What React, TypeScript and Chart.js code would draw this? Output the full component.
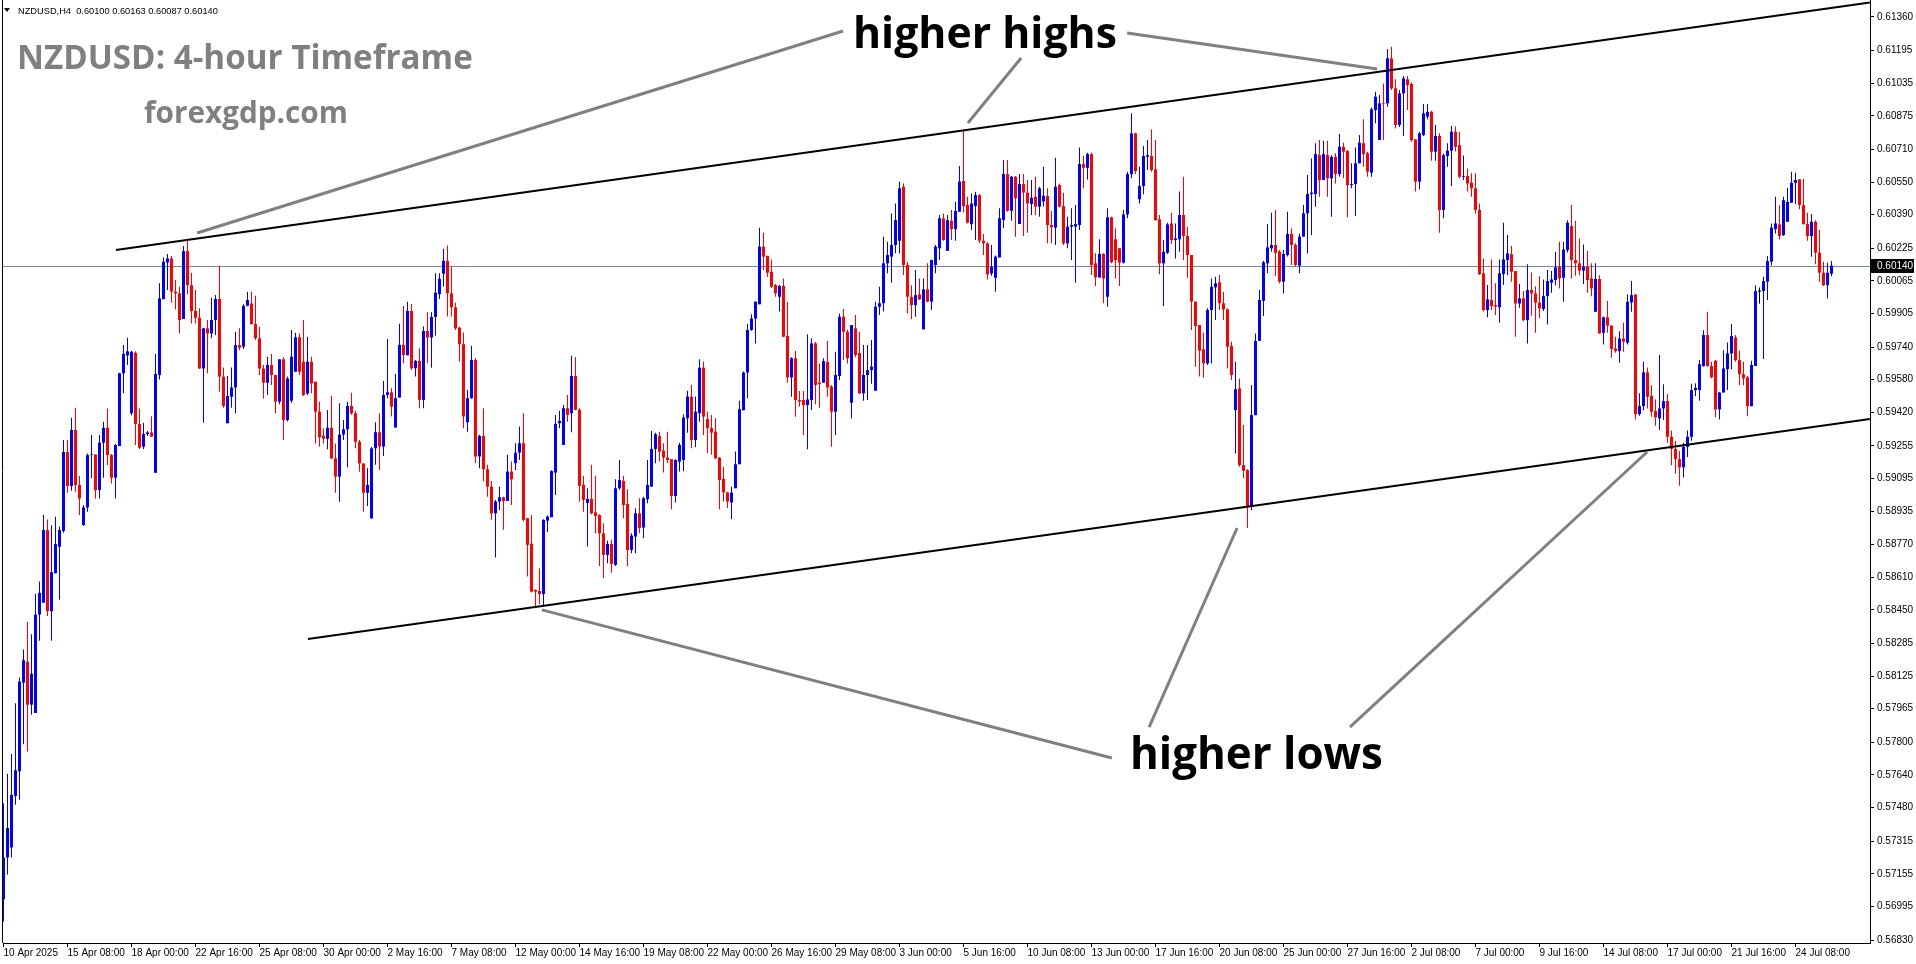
import React, { useEffect, useRef } from "react";
import { Chart, registerables } from "chart.js";
Chart.register(...registerables);

// NZDUSD H4 candles, prices in 1e-5 units (points)
const opens = [
57030,57235,57284,57537,57658,58093,58196,57985,57944,58427,
58485,58842,58444,58630,58760,58838,59225,59058,59333,59063,
58867,58953,59210,59213,59038,59271,59344,59210,59099,59254,
59611,59699,59415,59712,59362,59251,59313,59321,59123,59603,
59975,60155,60175,60012,60004,59878,60211,60044,59917,59884,
59635,59832,59807,59873,59976,59595,59366,59496,59542,59750,
59742,59943,59954,59853,59783,59635,59565,59652,59603,59472,
59680,59382,59477,59619,59788,59668,59512,59668,59570,59423,
59305,59290,59344,59194,59104,59311,59336,59451,59415,59275,
59169,59025,58899,59243,59322,59252,59505,59518,59345,59492,
59751,59700,59917,59636,59672,59481,59819,59787,59888,60000,
60100,60163,60004,59935,59835,59754,59371,59489,59677,59203,
59304,59140,59055,58924,58982,59003,58985,59129,59170,59222,
59268,58900,58775,58548,58543,58528,58888,58905,59124,59366,
59260,59440,59415,59598,59432,59064,58975,58995,58929,58916,
58826,58720,58774,58671,59047,59083,58970,58744,58810,58924,
58854,58993,59055,59240,59304,59232,59198,59190,59009,59178,
59186,59391,59497,59284,59415,59639,59386,59342,59325,59197,
59093,59026,58977,59047,59165,59430,59615,59824,59880,59950,
60233,60188,60110,60044,59987,60040,59795,59591,59685,59480,
59480,59455,59480,59758,59566,59565,59667,59546,59423,59598,
59889,59815,59467,59832,59711,59513,59603,59627,59526,59938,
59955,60151,60184,60241,60262,60527,60143,59987,59946,59999,
59827,60023,59963,60143,60225,60372,60212,60360,60319,60404,
60555,60437,60343,60432,60486,60262,60249,60101,60080,60180,
60364,60589,60409,60576,60344,60540,60498,60442,60478,60429,
60455,60481,60339,60326,60535,60432,60249,60331,60331,60339,
60638,60620,60687,60151,60082,60197,59987,60377,60269,60225,
60154,60391,60589,60789,60465,60530,60674,60678,60612,60367,
60151,60203,60347,60265,60269,60388,60285,60192,59963,59848,
59729,59660,59922,60033,60058,59955,59925,59745,59431,59537,
59161,59136,58960,59406,59770,59967,60151,60225,60241,60208,
60061,60192,60295,60241,60140,60282,60396,60491,60491,60682,
60560,60682,60568,60674,60589,60723,60702,60535,60540,60642,
60740,60691,60596,60903,60756,60936,60936,61157,61010,60830,
60985,61054,61031,60760,60552,60781,60871,60895,60699,60776,
60413,60678,60704,60797,60731,60576,60580,60547,60519,60413,
60102,59922,59971,59946,59935,60098,60167,60196,60113,59954,
59979,59872,60020,60003,59958,59927,59990,60056,60069,60134,
60080,60216,60334,60167,60151,60115,60134,60077,59913,60074,
59810,59886,59845,59733,59720,59782,59761,59959,59998,59411,
59450,59616,59501,59426,59390,59439,59475,59300,59240,59190,
59150,59250,59300,59529,59529,59647,59799,59647,59673,59434,
59517,59632,59709,59787,59676,59607,59591,59450,59647,60015,
60015,60061,60159,60319,60342,60290,60355,60448,60546,60563,
60437,60344,60285,60355,60203,60105,60044,60100];

const highs = [
57501,57646,57743,57992,58118,58256,58391,58331,58529,58589,
58916,58894,58866,58907,58860,59284,59284,59393,59442,59107,
58965,59218,59308,59213,59308,59374,59438,59215,59264,59614,
59750,59786,59722,59720,59439,59369,59328,59401,59706,60053,
60180,60197,60187,60069,60036,60236,60269,60105,60020,59930,
59835,59873,59982,59995,60139,59640,59598,59640,59815,59832,
59950,60012,60012,59992,59840,59652,59693,59706,59603,59680,
59690,59595,59824,59810,59807,59873,59791,59693,59570,59472,
59340,59431,59500,59267,59464,59382,59472,59516,59428,59284,
59170,59145,59250,59371,59415,59574,59780,59538,59608,59854,
59942,59962,59952,59677,59734,59841,59911,59911,60102,60102,
60222,60238,60135,59958,59840,59811,59530,59747,59685,59310,
59440,59162,59083,58990,59055,59005,59211,59178,59268,59350,
59415,58900,58916,58550,58654,58895,58915,59135,59407,59428,
59456,59505,59697,59690,59440,59108,59047,59162,59108,58920,
58875,58789,58794,59091,59186,59108,59042,58826,58949,58998,
59006,59186,59328,59320,59325,59268,59325,59190,59190,59270,
59410,59526,59554,59497,59680,59669,59423,59407,59391,59200,
59153,59030,59055,59227,59476,59620,59854,59901,59963,60326,
60301,60188,60170,60050,60045,60077,59963,59690,59721,59524,
59524,59802,59783,59765,59660,59685,59770,59554,59717,59905,
59927,59825,59848,59897,59815,59750,59750,59775,59963,60036,
60282,60257,60396,60445,60552,60543,60159,60044,60118,60077,
60077,60151,60170,60241,60388,60396,60388,60413,60453,60629,
60808,60478,60494,60502,60490,60295,60255,60241,60190,60421,
60658,60658,60580,60580,60589,60589,60560,60560,60576,60527,
60625,60519,60408,60669,60543,60498,60380,60421,60437,60720,
60678,60694,60694,60200,60269,60200,60421,60380,60323,60225,
60413,60601,60887,60792,60625,60727,60756,60808,60756,60388,
60265,60350,60399,60347,60503,60576,60331,60192,59963,59848,
59810,59930,60077,60085,60094,60012,59930,59766,59668,59586,
59357,59140,59554,59807,60020,60164,60344,60399,60413,60216,
60216,60404,60323,60250,60298,60437,60584,60666,60740,60756,
60753,60753,60682,60691,60786,60743,60707,60642,60720,60781,
60858,60699,60916,60993,60977,61034,61203,61214,61054,61002,
61070,61070,61040,60760,60797,60933,60933,60900,60830,60789,
60690,60740,60825,60822,60797,60680,60617,60593,60593,60445,
60175,60045,60170,60053,60170,60350,60290,60236,60113,60049,
60015,60146,60106,60039,60088,60072,60118,60113,60208,60257,
60257,60363,60437,60360,60273,60244,60211,60151,60151,60093,
59890,59966,59848,59791,59818,59859,59998,60064,60000,59513,
59668,59640,59553,59483,59701,59558,59510,59330,59280,59230,
59270,59330,59560,59562,59676,59823,59913,59668,59676,59521,
59725,59763,59853,59799,59722,59668,59598,59673,60044,60033,
60085,60187,60347,60478,60437,60478,60522,60600,60596,60565,
60565,60399,60393,60363,60314,60159,60154,60163];

const lows = [
56921,57151,57235,57494,57518,57791,57755,57936,57944,58299,
58485,58420,58299,58630,58500,58829,59025,59035,59030,58916,
58862,58932,59096,58997,58997,59099,59161,59071,58997,59254,
59513,59652,59405,59259,59240,59240,59303,59300,59123,59581,
59975,60020,59958,59925,59807,59878,59999,59856,59856,59632,
59369,59611,59783,59799,59521,59442,59366,59442,59415,59725,
59730,59940,59850,59775,59603,59488,59505,59554,59415,59460,
59284,59375,59467,59619,59603,59500,59505,59513,59267,59251,
59267,59238,59190,59025,58981,59284,59150,59408,59243,59128,
58932,58960,58899,59162,59137,59206,59489,59399,59345,59492,
59661,59700,59628,59595,59440,59440,59661,59639,59795,59976,
60037,59890,59890,59824,59669,59342,59325,59486,59170,59145,
59080,59006,58892,58707,58940,58843,58985,58965,59137,59186,
58885,58614,58535,58458,58479,58466,58831,58905,59014,59342,
59260,59374,59322,59430,58982,58932,58761,58920,58826,58666,
58605,58679,58633,58665,59040,58900,58663,58728,58728,58826,
58802,58974,59055,59170,59178,59124,59170,58944,58977,59129,
59130,59320,59243,59250,59374,59309,59219,59211,59190,58944,
58982,58950,58895,59047,59165,59430,59489,59820,59758,59950,
60118,60085,60030,59987,59914,59788,59565,59496,59398,59447,
59308,59238,59431,59460,59442,59565,59496,59251,59308,59578,
59676,59660,59390,59690,59510,59477,59480,59560,59526,59897,
59914,60102,60056,60200,60200,60094,59905,59876,59889,59971,
59827,59960,59922,60102,60167,60262,60212,60265,60262,60404,
60400,60347,60314,60265,60249,60192,60072,60090,60012,60180,
60323,60404,60360,60282,60344,60285,60301,60388,60388,60380,
60430,60249,60249,60241,60425,60241,60225,60167,60056,60314,
60519,60563,60094,60040,60080,59955,59938,60151,60077,60040,
60150,60372,60568,60589,60445,60490,60609,60601,60360,60098,
59941,60197,60246,60175,60208,60167,60080,59824,59644,59595,
59591,59652,59660,59873,59922,59873,59636,59578,59218,59153,
59096,58852,58940,59406,59770,59893,60102,60208,60089,60053,
60004,60184,60143,60138,60102,60282,60200,60290,60429,60478,
60560,60478,60380,60543,60576,60568,60377,60519,60383,60642,
60625,60576,60576,60838,60756,60756,60920,61002,60813,60820,
60776,60903,60748,60503,60514,60776,60858,60655,60655,60301,
60372,60625,60530,60700,60568,60560,60503,60478,60396,60094,
59914,59886,59922,59897,59860,60045,60093,60061,59791,59933,
59867,59758,59894,59810,59881,59917,59851,60007,60044,60028,
59962,60204,60077,60090,60093,60049,60007,59990,59913,59805,
59753,59810,59688,59712,59663,59717,59753,59913,59385,59403,
59430,59439,59398,59354,59333,59382,59270,59160,59120,59060,
59100,59200,59280,59499,59477,59643,59643,59586,59395,59385,
59517,59529,59630,59668,59553,59553,59401,59450,59647,59954,
59681,59971,60142,60298,60268,60285,60355,60448,60442,60416,
60340,60262,60183,60147,60061,60040,59979,60087];

const closes = [
57235,57380,57542,57663,58098,58203,57985,58137,58427,58534,
58842,58444,58635,58773,58842,59225,59058,59333,59063,58997,
58953,59210,59213,59038,59271,59344,59210,59099,59259,59611,
59707,59719,59717,59362,59246,59313,59321,59300,59608,59979,
60159,60175,60012,60004,59873,60211,60044,59917,59884,59635,
59832,59807,59873,59976,59595,59451,59500,59542,59750,59737,
59943,59971,59853,59783,59635,59565,59652,59603,59472,59680,
59382,59586,59693,59788,59619,59505,59668,59562,59423,59297,
59290,59344,59194,59104,59311,59336,59451,59415,59275,59169,
59025,59063,59243,59322,59252,59505,59518,59448,59489,59751,
59701,59917,59636,59672,59481,59819,59787,59888,60007,60075,
60163,60004,59935,59832,59754,59399,59489,59677,59203,59304,
59140,59055,58924,58982,59003,58985,59129,59091,59222,59268,
58892,58769,58540,58540,58528,58892,58908,59132,59363,59378,
59440,59407,59598,59432,59059,58990,58995,58924,58911,58826,
58720,58774,58676,59047,59088,58965,58744,58815,58924,58851,
58998,59063,59240,59312,59227,59198,59186,59009,59186,59260,
59394,59497,59284,59423,59639,59399,59342,59320,59194,59088,
59026,58982,59026,59165,59435,59615,59824,59880,59963,60233,
60184,60105,60036,60004,60040,59791,59591,59685,59480,59472,
59455,59483,59758,59554,59559,59671,59542,59423,59603,59889,
59815,59685,59848,59701,59513,59603,59627,59644,59938,59955,
60151,60192,60241,60363,60519,60143,59987,59946,59995,59974,
60023,59963,60167,60233,60372,60265,60363,60319,60408,60552,
60432,60350,60445,60486,60262,60249,60097,60134,60184,60372,
60589,60409,60576,60470,60540,60498,60445,60473,60429,60519,
60483,60339,60328,60527,60429,60249,60331,60339,60344,60638,
60620,60687,60143,60082,60197,60077,60377,60156,60167,60154,
60391,60589,60789,60604,60530,60678,60682,60609,60363,60151,
60208,60342,60265,60273,60388,60285,60192,59963,59843,59722,
59660,59922,60036,60053,59955,59925,59742,59603,59533,59161,
59133,58960,59406,59770,59971,60156,60229,60241,60203,60061,
60197,60295,60241,60143,60282,60396,60491,60498,60687,60560,
60687,60568,60674,60589,60723,60699,60535,60540,60642,60743,
60687,60601,60907,60969,60936,60933,61157,61010,60830,60985,
61059,61026,60756,60552,60789,60887,60895,60699,60776,60413,
60682,60704,60797,60723,60576,60580,60543,60519,60413,60098,
59922,59974,59941,59938,60102,60170,60200,60110,59954,59979,
59872,60020,60003,59958,59930,59990,60064,60072,60131,60077,
60219,60350,60167,60151,60115,60134,60069,60028,60074,59807,
59886,59845,59730,59720,59782,59766,59962,59995,59411,59450,
59616,59496,59423,59395,59439,59475,59300,59240,59190,59150,
59250,59300,59529,59540,59656,59799,59647,59591,59434,59517,
59635,59709,59794,59676,59607,59586,59450,59652,60015,60015,
60064,60162,60326,60347,60285,60461,60453,60546,60560,60437,
60344,60285,60355,60203,60105,60044,60105,60140];

// time axis: one label every 16 bars
const xTickBars = [0,16,32,48,64,80,96,112,128,144,160,176,192,208,224,240,256,272,288,304,320,336,352,368,384,400,416,432,448];
const xTickLabels = ["10 Apr 2025","15 Apr 08:00","18 Apr 00:00","22 Apr 16:00","25 Apr 08:00","30 Apr 00:00","2 May 16:00","7 May 08:00","12 May 00:00","14 May 16:00","19 May 08:00","22 May 00:00","26 May 16:00","29 May 08:00","3 Jun 00:00","5 Jun 16:00","10 Jun 08:00","13 Jun 00:00","17 Jun 16:00","20 Jun 08:00","25 Jun 00:00","27 Jun 16:00","2 Jul 08:00","7 Jul 00:00","9 Jul 16:00","14 Jul 08:00","17 Jul 00:00","21 Jul 16:00","24 Jul 08:00"];

// price axis
const yTickValues = [61360,61195,61035,60875,60710,60550,60390,60225,60065,59905,59740,59580,59420,59255,59095,58935,58770,58610,58450,58285,58125,57965,57800,57640,57480,57315,57155,56995,56830];
const yRange = [56815.3, 61443.4];
const xRange = [-0.125, 466.625];

const currentPrice = 60140;
const headerText = "NZDUSD,H4  0.60100 0.60163 0.60087 0.60140";
const titleText = "NZDUSD: 4-hour Timeframe";
const siteText = "forexgdp.com";
const highsText = "higher highs";
const lowsText = "higher lows";

// trend lines and pointers: [bar index, price]
const upperTrend = [{ x: 28.1, y: 60216 }, { x: 466.6, y: 61431 }];
const lowerTrend = [{ x: 76.1, y: 58307 }, { x: 466.6, y: 59387 }];
const pointer1 = [{ x: 209.9, y: 61291 }, { x: 48.4, y: 60300 }];
const pointer2 = [{ x: 254.4, y: 61159 }, { x: 241.1, y: 60840 }];
const pointer3 = [{ x: 280.9, y: 61281 }, { x: 343.4, y: 61105 }];
const pointer4 = [{ x: 277.1, y: 57723 }, { x: 134.6, y: 58450 }];
const pointer5 = [{ x: 286.4, y: 57875 }, { x: 308.4, y: 58852 }];
const pointer6 = [{ x: 336.6, y: 57875 }, { x: 410.9, y: 59225 }];

const BULL = "#0000ff";
const BEAR = "#ff0000";
const DOJI = "#000000";
const GRAY = "#808080";
const AXIS_FONT = "'Liberation Sans', Arial, sans-serif";
const TEXT_FONT = "'Open Sans', 'Noto Sans', sans-serif";

function fitText(ctx: CanvasRenderingContext2D, text: string, weight: string, family: string, width: number) {
  ctx.font = `${weight} 100px ${family}`;
  const w = ctx.measureText(text).width;
  const size = (100 * width) / w;
  ctx.font = `${weight} ${size}px ${family}`;
  return size;
}

const overlay = {
  id: "overlay",
  beforeDatasetsDraw(chart: any) {
    const { ctx, chartArea, scales } = chart;
    const y = Math.round(scales.y.getPixelForValue(currentPrice)) + 0.5;
    ctx.save();
    ctx.strokeStyle = "#778899";
    ctx.lineWidth = 1;
    ctx.beginPath();
    ctx.moveTo(chartArea.left, y);
    ctx.lineTo(chartArea.right, y);
    ctx.stroke();
    ctx.restore();
  },
  afterDraw(chart: any) {
    const { ctx, chartArea, scales } = chart;
    ctx.save();
    // left frame line
    ctx.strokeStyle = "#000";
    ctx.lineWidth = 1;
    ctx.beginPath();
    ctx.moveTo(2.5, 0);
    ctx.lineTo(2.5, chartArea.bottom);
    ctx.stroke();

    // current price tag
    const py = scales.y.getPixelForValue(currentPrice);
    ctx.fillStyle = "#000";
    ctx.fillRect(chartArea.right + 1, Math.round(py) - 7, 43, 14);
    ctx.fillStyle = "#fff";
    ctx.font = `10px ${AXIS_FONT}`;
    ctx.textBaseline = "middle";
    ctx.textAlign = "left";
    ctx.fillText((currentPrice / 1e5).toFixed(5), chartArea.right + 7, Math.round(py));

    // header
    ctx.fillStyle = "#000";
    ctx.beginPath();
    ctx.moveTo(4, 8);
    ctx.lineTo(10, 8);
    ctx.lineTo(7, 12);
    ctx.closePath();
    ctx.fill();
    fitText(ctx, headerText, "normal", AXIS_FONT, 200);
    ctx.textBaseline = "alphabetic";
    ctx.fillText(headerText, 18, 14);

    // titles
    ctx.fillStyle = GRAY;
    fitText(ctx, titleText, "bold", TEXT_FONT, 456);
    ctx.fillText(titleText, 17, 69);
    fitText(ctx, siteText, "bold", TEXT_FONT, 204);
    ctx.fillText(siteText, 144, 123);

    ctx.fillStyle = "#000";
    fitText(ctx, highsText, "bold", TEXT_FONT, 264);
    ctx.fillText(highsText, 853, 48);
    fitText(ctx, lowsText, "bold", TEXT_FONT, 253);
    ctx.fillText(lowsText, 1130, 769);
    ctx.restore();
  },
};

export default function App() {
  const ref = useRef<HTMLCanvasElement>(null);
  useEffect(() => {
    document.body.style.margin = "0";
    const canvas = ref.current!;
    const colors = closes.map((c, i) => (c > opens[i] ? BULL : c < opens[i] ? BEAR : DOJI));
    const wickData = closes.map((c, i) => ({
      x: i,
      y: [Math.min(lows[i], opens[i], c), Math.max(highs[i], opens[i], c)],
    }));
    const bodyData = closes.map((c, i) => ({
      x: i,
      y: c === opens[i] ? [c - 2.5, c + 2.5] : [opens[i], c],
    }));
    const lineDs = (pts: any[], color: string, width: number) => ({
      type: "line" as const,
      data: pts,
      borderColor: color,
      borderWidth: width,
      pointRadius: 0,
      fill: false,
      tension: 0,
      order: 0,
    });
    const chart = new Chart(canvas, {
      type: "bar",
      data: {
        datasets: [
          lineDs(upperTrend, "#000", 2),
          lineDs(lowerTrend, "#000", 2),
          lineDs(pointer1, GRAY, 3),
          lineDs(pointer2, GRAY, 3),
          lineDs(pointer3, GRAY, 3),
          lineDs(pointer4, GRAY, 3),
          lineDs(pointer5, GRAY, 3),
          lineDs(pointer6, GRAY, 3),
          {
            type: "bar",
            data: bodyData as any,
            backgroundColor: colors,
            barThickness: 3,
            grouped: false,
            borderWidth: 0,
            inflateAmount: 0,
            order: 4,
          } as any,
          {
            type: "bar",
            data: wickData as any,
            backgroundColor: colors,
            barThickness: 1,
            grouped: false,
            borderWidth: 0,
            inflateAmount: 0,
            order: 5,
          } as any,
        ],
      },
      options: {
        responsive: false,
        animation: false,
        events: [],
        layout: { padding: { left: 3, top: 0, right: 0, bottom: 0 } },
        plugins: { legend: { display: false }, tooltip: { enabled: false } },
        scales: {
          x: {
            type: "linear",
            min: xRange[0],
            max: xRange[1],
            offset: false,
            bounds: "data",
            grid: { display: true, drawOnChartArea: false, drawTicks: true, tickLength: 4, color: "#000", offset: false },
            border: { display: true, color: "#000", width: 1 },
            ticks: {
              autoSkip: false,
              maxRotation: 0,
              minRotation: 0,
              align: "start",
              padding: 0,
              color: "#000",
              font: { family: AXIS_FONT, size: 10 },
              callback: (_v: any, i: number) => xTickLabels[i] ?? "",
            },
            afterBuildTicks: (s: any) => {
              s.ticks = xTickBars.map((v) => ({ value: v }));
            },
            afterFit: (s: any) => {
              s.height = 21;
              s.paddingLeft = 0;
              s.paddingRight = 0;
            },
          } as any,
          y: {
            type: "linear",
            position: "right",
            min: yRange[0],
            max: yRange[1],
            beginAtZero: false,
            bounds: "data",
            grid: { display: true, drawOnChartArea: false, drawTicks: true, tickLength: 4, color: "#000" },
            border: { display: true, color: "#000", width: 1 },
            ticks: {
              autoSkip: false,
              padding: 3,
              color: "#000",
              font: { family: AXIS_FONT, size: 10 },
              callback: (v: any) => (Number(v) / 1e5).toFixed(5),
            },
            afterBuildTicks: (s: any) => {
              s.ticks = yTickValues.map((v) => ({ value: v }));
            },
            afterFit: (s: any) => {
              s.width = 46;
              s.paddingTop = 0;
              s.paddingBottom = 0;
            },
          } as any,
        },
      },
      plugins: [overlay],
    });
    return () => chart.destroy();
  }, []);
  return (
    <canvas
      ref={ref}
      width={1916}
      height={964}
      style={{ display: "block", position: "absolute", left: 0, top: 0 }}
    />
  );
}
